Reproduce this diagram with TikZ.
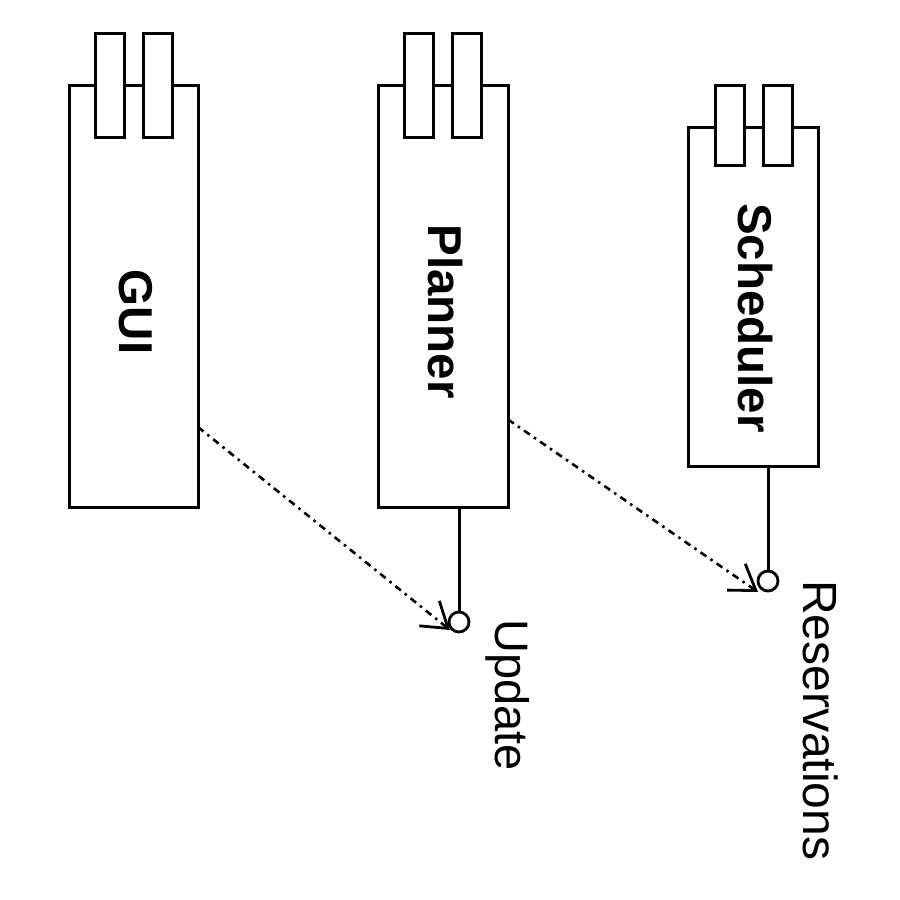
\documentclass[tikz,border=0pt]{standalone}
\usepackage{fontspec}
\setmainfont{Liberation Sans}
\usetikzlibrary{arrows.meta}
\begin{document}
\begin{tikzpicture}[x=1pt,y=-1pt,
  compbody/.style={draw, line width=3pt, fill=white, inner sep=0pt, outer sep=0pt},
  comptab/.style={draw, line width=3pt, fill=white, inner sep=0pt, outer sep=0pt,
    minimum width=29pt, minimum height=104pt},
  lolly/.style={circle, draw, line width=2.8pt, fill=white, inner sep=0pt, outer sep=0pt,
    minimum size=20pt},
  lollystem/.style={line width=3pt},
  compname/.style={rotate=-90, anchor=base, inner sep=0pt,
    font=\fontsize{47.5}{56}\selectfont\bfseries},
  ifacename/.style={rotate=-90, anchor=base west, inner sep=0pt,
    font=\fontsize{47}{56}\selectfont},
  dep/.style={line width=2.6pt, dash pattern=on 7pt off 5pt on 2.5pt off 5pt,
    -{Straight Barb[length=24pt,width=32pt,line width=2.8pt]}}]
\useasboundingbox (0,0) rectangle (900,900);

% components: body with two tabs on top
\node[compbody, minimum width=129pt, minimum height=422pt] (gui) at (133.5,296) {};
\node[comptab] (guiA) at (109.5,85) {};
\node[comptab] (guiB) at (158,85) {};
\node[compname] (guiT) at (119,312) {GUI};

\node[compbody, minimum width=130pt, minimum height=422pt] (planner) at (443,296) {};
\node[comptab] (planA) at (418.5,85) {};
\node[comptab] (planB) at (467,85) {};
\node[compname] (planT) at (428,311.5) {Planner};

\node[compbody, minimum width=130pt, minimum height=339pt] (scheduler) at (753,296.5) {};
\node[comptab, minimum height=80pt] (schA) at (729.5,125) {};
\node[comptab, minimum height=80pt] (schB) at (777.5,125) {};
\node[compname] (schT) at (738,318) {Scheduler};

% provided interfaces (lollipops)
\node[lolly] (upd) at (459,622) {};
\draw[lollystem] (upd.north) -- (upd.north |- planner.south);
\node[ifacename] (updT) at (495,619) {Update};

\node[lolly] (res) at (768,581) {};
\draw[lollystem] (res.north) -- (res.north |- scheduler.south);
\node[ifacename, font=\fontsize{48}{56}\selectfont] (resT) at (803,580) {Reservations};

% dependencies
\coordinate (updTip) at (450,630);
\coordinate (resTip) at (758,592);
\draw[dep] ([yshift=-131pt]gui.east) -- (updTip);
\draw[dep] ([yshift=-123.5pt]planner.east) -- (resTip);
\end{tikzpicture}
\end{document}
